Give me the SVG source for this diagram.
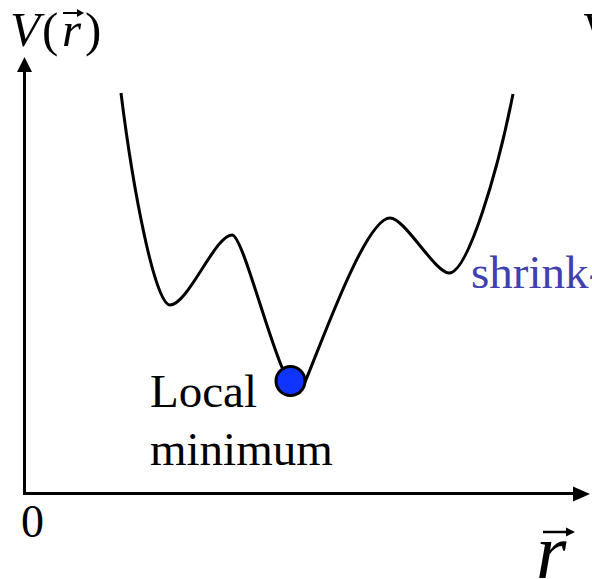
<svg xmlns="http://www.w3.org/2000/svg" width="592" height="579" viewBox="0 0 592 579">
<style>
.t{font-family:"Liberation Serif","Times New Roman",serif;fill:#000}
.i{font-style:italic}
.ax{stroke:#000;stroke-width:3;fill:none}
</style>
<rect width="592" height="579" fill="#fff"/>
<g id="axes">
<line class="ax" x1="24.5" y1="70" x2="24.5" y2="494.5"/>
<line class="ax" x1="23" y1="493.5" x2="576" y2="493.5"/>
<polygon points="24.5,57 17,72 32,72" fill="#000"/>
<polygon points="590,494 573,486.5 573,501.5" fill="#000"/>
</g>
<g id="curve">
<path d="M121,93 C133,190 155,305 170,305 C188,305 215,235 232,235 C245,235 280,393 299,393 C305,393 361,218 390,218 C405,218 435,273 449,273 C468,273 498,170 513,94" fill="none" stroke="#000" stroke-width="3"/>
</g>
<g id="ball">
<circle cx="290.5" cy="381" r="14.5" fill="#1034ff" stroke="#000" stroke-width="3"/>
</g>
<g id="labels">
<text class="t i" x="10" y="46" font-size="49">V</text>
<text class="t" x="42" y="46" font-size="49">(</text>
<text class="t i" x="62" y="46" font-size="49">r</text>
<text class="t" x="85" y="46" font-size="49">)</text>
<line x1="63" y1="13" x2="80" y2="13" stroke="#000" stroke-width="2"/>
<polygon points="84,13 77,9 77,17" fill="#000"/>
<text class="t" x="584" y="46" font-size="49">W</text>
<text class="t" x="150" y="407" font-size="47">Local</text>
<text class="t" x="150" y="465" font-size="47">minimum</text>
<text class="t" x="471" y="288" font-size="47" style="fill:#4040b0">shrink-</text>
<text class="t" x="21" y="537" font-size="46">0</text>
<text class="t i" x="536" y="578" font-size="78">r</text>
<line x1="543" y1="532" x2="567" y2="532" stroke="#000" stroke-width="2.5"/>
<polygon points="575,532 566,527.5 566,536.5" fill="#000"/>
</g>
</svg>
